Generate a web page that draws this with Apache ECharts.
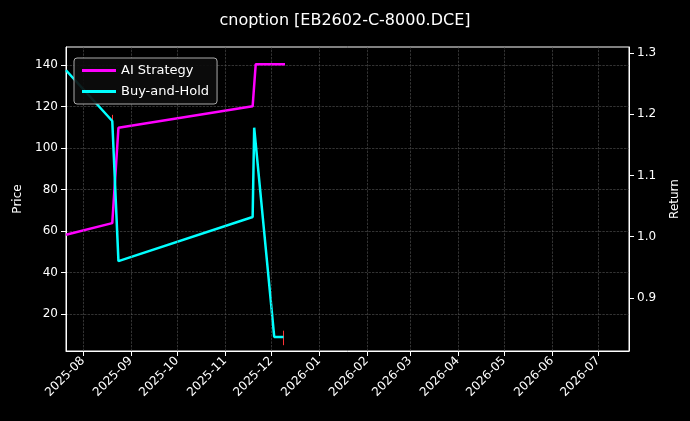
<!DOCTYPE html>
<html><head><meta charset="utf-8">
<script src="https://cdn.jsdelivr.net/npm/echarts@6/dist/echarts.min.js"></script>
<style>html,body{margin:0;background:#000}#c{width:690px;height:421px}</style>
</head><body><div id="c"></div>
<script>
const aiDates = ['2025-07-21','2025-08-20','2025-08-24','2025-11-19','2025-11-21','2025-12-10'];
const aiValues = [1.003,1.022,1.178,1.213,1.282,1.282];
const bhDates = ['2025-07-21','2025-08-20','2025-08-24','2025-11-19','2025-11-20','2025-12-03','2025-12-09'];
const bhValues = [1.272,1.189,0.960,1.032,1.178,0.836,0.836];
const candleDates = ['2025-08-20','2025-12-09'];
const candleOHLC = [[115,113,112,116],[10,8,5,12]];
const monthTicks = ['2025-08','2025-09','2025-10','2025-11','2025-12','2026-01','2026-02','2026-03','2026-04','2026-05','2026-06','2026-07'];
const priceTicks = [20,40,60,80,100,120,140];
const returnTicks = [0.9,1.0,1.1,1.2,1.3];
const ts = d => Date.UTC(+d.slice(0,4), +d.slice(5,7)-1, d.length>7?+d.slice(8,10):1);
const tickVals = monthTicks.map(ts);
const chart = echarts.init(document.getElementById('c'));
const grid = {color:'#555', type:'dashed', width:0.6};
const fnt = {color:'#fff', fontSize:12, fontFamily:'DejaVu Sans'};
chart.setOption({
  backgroundColor:'#000',
  animation:false,
  title:{text:'cnoption [EB2602-C-8000.DCE]', left:'center', top:8, textStyle:{color:'#fff', fontSize:16, fontWeight:'normal', fontFamily:'DejaVu Sans'}},
  grid:{left:66, right:61, top:47, bottom:70, show:true, borderColor:'#fff', borderWidth:1, backgroundColor:'transparent'},
  legend:{left:74, top:58, orient:'vertical', itemWidth:34, itemHeight:3, itemGap:8, z:20, zlevel:1,
    backgroundColor:'rgba(12,12,12,0.92)', borderColor:'#aaa', borderWidth:1, borderRadius:3, padding:[6,8],
    textStyle:Object.assign({}, fnt, {fontSize:13}),
    data:[{name:'AI Strategy', icon:'rect'},{name:'Buy-and-Hold', icon:'rect'}]},
  xAxis:{type:'value', min:ts('2025-07-21'), max:ts('2026-07-21'),
    axisLine:{onZero:false, lineStyle:{color:'#fff'}}, axisTick:{customValues:tickVals, lineStyle:{color:'#fff'}},
    axisLabel:Object.assign({customValues:tickVals, rotate:45,
      formatter:v=>{const d=new Date(v);return d.getUTCFullYear()+'-'+String(d.getUTCMonth()+1).padStart(2,'0');}}, fnt),
    splitLine:{show:false}},
  yAxis:[
    {type:'value', min:2.2, max:148.7, name:'Price', nameLocation:'middle', nameGap:38, nameRotate:90,
     nameTextStyle:fnt,
     axisLabel:Object.assign({customValues:priceTicks}, fnt),
     axisTick:{show:true, customValues:priceTicks, lineStyle:{color:'#fff'}},
     axisLine:{show:true, lineStyle:{color:'#fff'}}, splitLine:{show:true, lineStyle:grid}},
    {type:'value', min:0.813, max:1.31, name:'Return', nameLocation:'middle', nameGap:40, nameRotate:90,
     nameTextStyle:fnt,
     axisLabel:Object.assign({customValues:returnTicks, formatter:v=>v.toFixed(1)}, fnt),
     axisTick:{show:true, customValues:returnTicks, lineStyle:{color:'#fff'}},
     axisLine:{show:true, lineStyle:{color:'#fff'}}, splitLine:{show:false}}
  ],
  series:[
    {name:'grid', type:'line', yAxisIndex:0, data:[], silent:true,
     markLine:{silent:true, symbol:'none', label:{show:false}, lineStyle:grid, animation:false,
       data:tickVals.map(v=>({xAxis:v}))}},
    {name:'Price', type:'candlestick', yAxisIndex:0, barWidth:1,
     data:candleDates.map((d,i)=>[ts(d), ...candleOHLC[i]]),
     itemStyle:{color:'#ff3333', color0:'#ff3333', borderColor:'#ff3333', borderColor0:'#ff3333'}},
    {name:'AI Strategy', type:'line', yAxisIndex:1, showSymbol:false, lineStyle:{color:'#ff00ff', width:2.5}, itemStyle:{color:'#ff00ff'},
     data:aiDates.map((d,i)=>[ts(d), aiValues[i]])},
    {name:'Buy-and-Hold', type:'line', yAxisIndex:1, showSymbol:false, lineStyle:{color:'#00ffff', width:2.5}, itemStyle:{color:'#00ffff'},
     data:bhDates.map((d,i)=>[ts(d), bhValues[i]])}
  ]
});
</script></body></html>
